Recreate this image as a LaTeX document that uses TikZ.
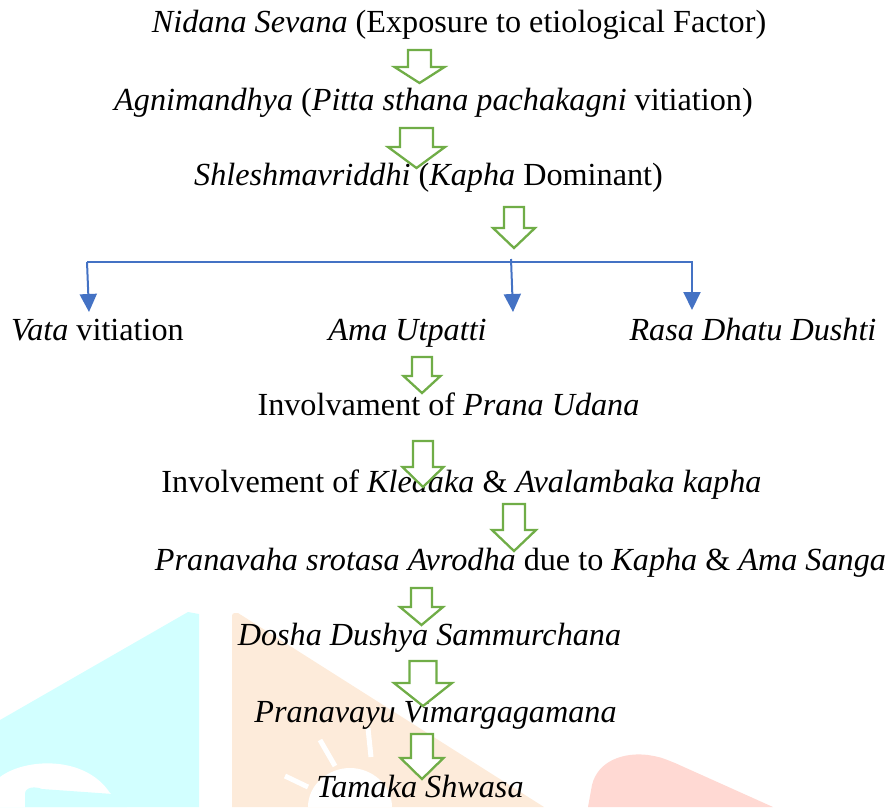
\documentclass[tikz,border=0pt]{standalone}
\usepackage{fontspec}
\setmainfont{Liberation Serif}
\usepackage{tikz}
\usetikzlibrary{arrows.meta, calc, positioning}
\definecolor{arrowgreen}{HTML}{70AD47}
\definecolor{busblue}{HTML}{4472C4}
\definecolor{markcyan}{HTML}{D2FFFF}
\definecolor{markpeach}{HTML}{FDEBDA}
\definecolor{markpink}{HTML}{FFD9D3}
\tikzstyle{stage} = [inner sep=0pt, anchor=base, font=\fontsize{32.2}{36}\selectfont]
\tikzstyle{bigarrow} = [draw=arrowgreen, line width=2.3pt, fill=white, line join=miter]
\tikzstyle{bus} = [draw=busblue, line width=1.5pt]
\tikzstyle{branch} = [draw=busblue, line width=2pt, -{Triangle[width=17pt,length=18pt]}]
% hollow block arrow: x, top, head base, tip, half shaft, half head
\newcommand{\blockarrow}[6]{\draw [bigarrow] ({#1-#5},#2) -- ({#1+#5},#2) -- ({#1+#5},#3) -- ({#1+#6},#3) -- (#1,#4) -- ({#1-#6},#3) -- ({#1-#5},#3) -- cycle;}

\begin{document}
\begin{tikzpicture}[x=1pt, y=-1pt]
		\useasboundingbox (0,0) rectangle (886,807);
		% watermark
		\fill [markcyan] (0,720) -- (188,612) -- (199,614) -- (199,807) -- (0,807) -- cycle;
		\fill [white] (0,777) .. controls (25,758) and (85,755) .. (110,793) -- (127,807) -- (0,807) -- cycle;
		\fill [markcyan] (25,807) -- (25,794) .. controls (25,787) and (35,786) .. (42,789) -- (127,795) -- (127,807) -- cycle;
		\fill [markpeach] (232,807) -- (232,619) .. controls (232,613) .. (238,613) -- (544,807) -- cycle;
		\fill [white] (308,807) .. controls (308,785) and (328,768) .. (350,768) .. controls (372,768) and (392,785) .. (392,807) -- cycle;
		\draw [white, line width=5pt] (320,740) -- (335,766);
		\draw [white, line width=5pt] (368,728) -- (371,757);
		\draw [white, line width=5pt] (285,776) -- (308,787);
		\fill [markpink] (588,807) -- (592,785) .. controls (598,760) and (625,752) .. (648,755) .. controls (660,757) .. (675,763) -- (773,807) -- cycle;
		% stages
		\node (Nidana) [stage] at (459,32) {\textit{Nidana Sevana} (Exposure to etiological Factor)};
		\node (Agni) [stage] at (433.5,110) {\textit{Agnimandhya} (\textit{Pitta sthana pachakagni} vitiation)};
		\node (Shleshma) [stage] at (428.5,185) {\textit{Shleshmavriddhi} (\textit{Kapha} Dominant)};
		\node (Vata) [stage] at (97.5,340) {\textit{Vata} vitiation};
		\node (Ama) [stage] at (407.5,340) {\textit{Ama Utpatti}};
		\node (Rasa) [stage] at (753,340) {\textit{Rasa Dhatu Dushti}};
		\node (Prana) [stage] at (448.5,415) {Involvament of \textit{Prana Udana}};
		\node (Kledaka) [stage] at (461.5,492) {Involvement of \textit{Kledaka} \& \textit{Avalambaka kapha}};
		\node (Avrodha) [stage] at (520.5,570) {\textit{Pranavaha srotasa Avrodha} due to \textit{Kapha} \& \textit{Ama Sanga}};
		\node (Sammurchana) [stage] at (429.5,645) {\textit{Dosha Dushya Sammurchana}};
		\node (Vimarga) [stage] at (435.5,722) {\textit{Pranavayu Vimargagamana}};
		\node (Tamaka) [stage] at (420,797) {\textit{Tamaka Shwasa}};
		% split into three
		\coordinate (BusLeft) at (87,262);
		\coordinate (BusMid) at (511,259);
		\coordinate (BusRight) at (692,261);
		\coordinate (VataTip) at (89,312);
		\coordinate (AmaTip) at (513,312);
		\coordinate (RasaTip) at (692,310);
		\draw [bus] (BusLeft) -- (BusRight |- BusLeft);
		\draw [branch] (BusLeft) -- (VataTip);
		\draw [branch] (BusMid) -- (AmaTip);
		\draw [branch] (BusRight) -- (RasaTip);
		% green arrows
		\blockarrow{419.5}{50}{67}{83}{11.5}{25}
		\blockarrow{416.5}{128}{147}{168}{16.5}{28.5}
		\blockarrow{514}{207}{228}{248}{10}{21}
		\blockarrow{422}{357}{376}{393}{10}{18.5}
		\blockarrow{423}{441}{467}{487}{10}{20.5}
		\blockarrow{514}{504}{530}{551}{11}{22}
		\blockarrow{421.5}{588}{607}{625}{10.5}{21.5}
		\blockarrow{423}{661}{683}{706}{13.5}{29}
		\blockarrow{422}{734}{758}{779}{11}{21.5}
\end{tikzpicture}
\end{document}
